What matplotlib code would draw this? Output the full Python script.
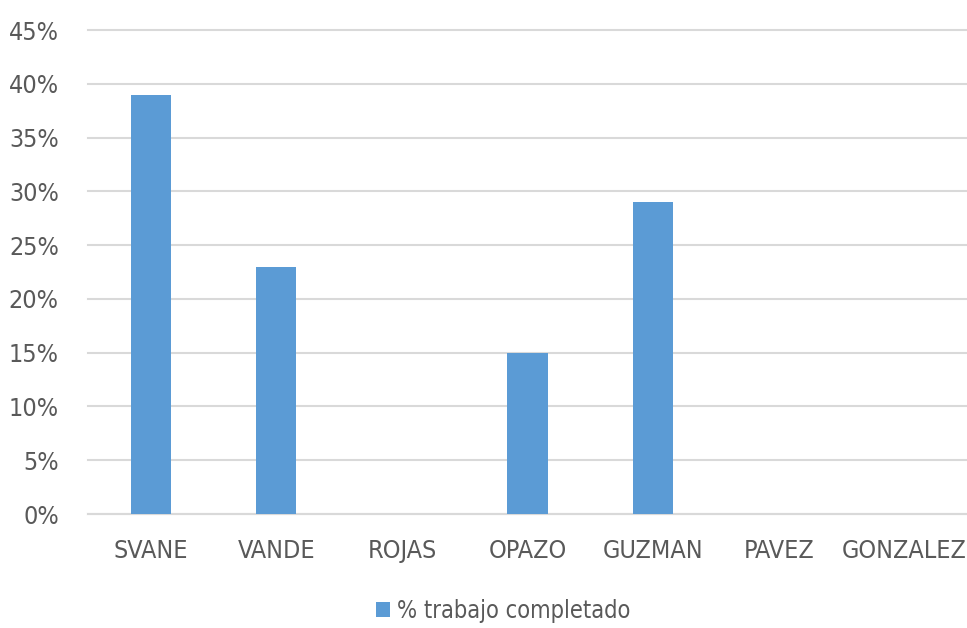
import matplotlib
matplotlib.use("Agg")
from matplotlib import pyplot as plt

names = ['SVANE', 'VANDE', 'ROJAS', 'OPAZO', 'GUZMAN', 'PAVEZ', 'GONZALEZ']
completado = [39, 23, 0, 15, 29, 0, 0]
yticks = [0, 5, 10, 15, 20, 25, 30, 35, 40, 45]

plt.rcParams['font.family'] = ['DejaVu Sans']
plt.rcParams['font.stretch'] = 'condensed'

txt = '#595959'
fig = plt.figure(figsize=(9.67, 6.28), dpi=100)
ax = fig.add_axes([0.091, 0.1815, 0.909, 0.7705])

x = range(len(names))
ax.bar(x, completado, width=0.32, color='#5B9BD5', label='% trabajo completado', zorder=3)

ax.set_xlim(-0.5, len(names) - 0.5)
ax.set_ylim(0, 45)
ax.set_yticks(yticks)
ax.set_yticklabels([f'{v}%' for v in yticks])
ax.set_xticks(list(x))
ax.set_xticklabels(names)
ax.tick_params(axis='both', length=0, colors=txt, labelsize=18)
ax.tick_params(axis='x', pad=18)
ax.tick_params(axis='y', pad=21)

ax.grid(axis='y', color='#D9D9D9', linewidth=1.5, zorder=0)
for gl in ax.get_ygridlines():
    gl.set_clip_on(False)
for s in ['top', 'right', 'left']:
    ax.spines[s].set_visible(False)
ax.spines['bottom'].set_color('#D9D9D9')
ax.spines['bottom'].set_linewidth(1.5)

leg = fig.legend(loc='center', bbox_to_anchor=(0.52, 0.027), frameon=False,
                 fontsize=17, handlelength=0.6, handleheight=0.6, handletextpad=0.3)
for t in leg.get_texts():
    t.set_color(txt)

fig.savefig('out.png', dpi=100)
